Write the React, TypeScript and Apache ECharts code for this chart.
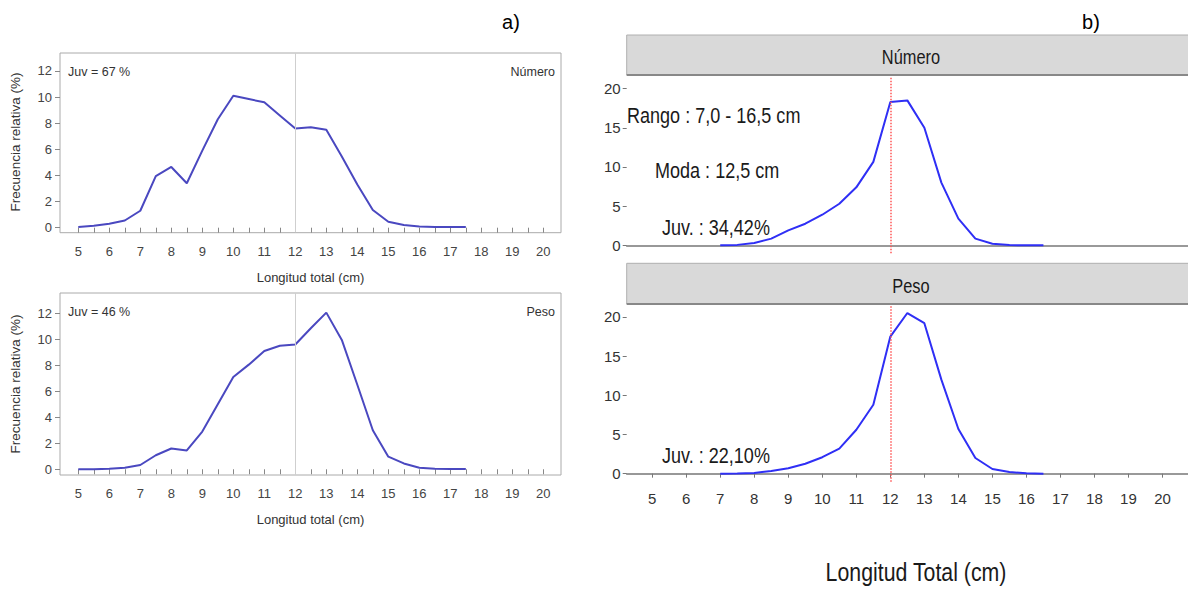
import React, { useEffect, useRef } from "react";
import * as echarts from "echarts";

// ---- data ----
const xLeft = [5, 5.5, 6, 6.5, 7, 7.5, 8, 8.5, 9, 9.5, 10, 10.5, 11, 11.5, 12, 12.5, 13, 13.5, 14, 14.5, 15, 15.5, 16, 16.5, 17, 17.5];
const numeroLeft = [0.05, 0.15, 0.3, 0.55, 1.3, 3.95, 4.65, 3.4, 5.9, 8.3, 10.1, 9.85, 9.6, 8.6, 7.6, 7.7, 7.5, 5.45, 3.3, 1.35, 0.45, 0.2, 0.1, 0.05, 0.05, 0.05];
const pesoLeft = [0, 0, 0.05, 0.12, 0.33, 1.08, 1.6, 1.45, 2.9, 5.0, 7.1, 8.05, 9.1, 9.5, 9.6, 10.85, 12.05, 9.95, 6.5, 3.0, 0.97, 0.45, 0.12, 0.05, 0.03, 0.03];

const xRight = [7, 7.5, 8, 8.5, 9, 9.5, 10, 10.5, 11, 11.5, 12, 12.5, 13, 13.5, 14, 14.5, 15, 15.5, 16, 16.5];
const numeroRight = [0, 0.05, 0.3, 0.85, 1.9, 2.75, 3.9, 5.3, 7.4, 10.65, 18.3, 18.5, 15.0, 8.0, 3.4, 0.85, 0.2, 0.02, 0, 0];
const pesoRight = [0, 0.02, 0.1, 0.35, 0.7, 1.27, 2.1, 3.2, 5.6, 8.8, 17.5, 20.5, 19.2, 12.0, 5.7, 2.0, 0.6, 0.2, 0.05, 0];

const xTickLabels = [5, 6, 7, 8, 9, 10, 11, 12, 13, 14, 15, 16, 17, 18, 19, 20];
const xTicksHalf = [5, 5.5, 6, 6.5, 7, 7.5, 8, 8.5, 9, 9.5, 10, 10.5, 11, 11.5, 12, 12.5, 13, 13.5, 14, 14.5, 15, 15.5, 16, 16.5, 17, 17.5, 18, 18.5, 19, 19.5, 20];
const yTicksLeft = [0, 2, 4, 6, 8, 10, 12];
const yTicksRight = [0, 5, 10, 15, 20];
const modeLine = 12;

const textsLeft = ["Juv = 67 %", "Juv = 46 %"];
const panelNames = ["Número", "Peso"];
const annotTop = ["Rango : 7,0 - 16,5 cm", "Moda : 12,5 cm", "Juv. : 34,42%"];
const annotBottom = "Juv. : 22,10%";

const SANS = "'Liberation Sans', Arial, sans-serif";
const NARROW_SCALE = 0.82;

const pairs = (xs: number[], ys: number[]) => xs.map((x, i) => [x, ys[i]]);

export default function App() {
  const ref = useRef<HTMLDivElement>(null);
  useEffect(() => {
    if (!ref.current) return;
    const chart = echarts.init(ref.current, null, { renderer: "svg" });

    const leftX = (gi: number) => ({
      type: "value",
      gridIndex: gi,
      min: 4.41,
      max: 20.57,
      splitLine: { show: false },
      axisLine: { show: false },
      axisTick: { show: true, customValues: xTicksHalf, length: 5, lineStyle: { color: "#888" } },
      axisLabel: { customValues: xTickLabels, margin: 12, fontSize: 13, color: "#444", fontFamily: SANS },
      name: "Longitud total (cm)",
      nameLocation: "middle",
      nameGap: 38,
      nameTextStyle: { fontSize: 13, color: "#333", fontFamily: SANS },
    });
    const leftY = (gi: number, min: number, max: number) => ({
      type: "value",
      gridIndex: gi,
      min,
      max,
      splitLine: { show: false },
      axisLine: { show: false },
      axisTick: { show: true, customValues: yTicksLeft, length: 5, lineStyle: { color: "#888" } },
      axisLabel: { customValues: yTicksLeft, margin: 8, fontSize: 13, color: "#444", fontFamily: SANS },
    });
    const rightX = (gi: number, labels: boolean) => ({
      type: "value",
      gridIndex: gi,
      min: 4.25,
      max: 20.75,
      splitLine: { show: false },
      axisLine: { show: true, lineStyle: { color: "#777", width: 1.5 } },
      axisTick: { show: labels, customValues: xTickLabels, length: 4, lineStyle: { color: "#777" } },
      axisLabel: { show: labels, customValues: xTickLabels, margin: 9, fontSize: 15, color: "#333", fontFamily: SANS },
    });
    const rightY = (gi: number) => ({
      type: "value",
      gridIndex: gi,
      min: -1.025,
      max: 21.525,
      splitLine: { show: false },
      axisLine: { show: false },
      axisTick: { show: true, customValues: yTicksRight, length: 4, lineStyle: { color: "#777" } },
      axisLabel: { customValues: yTicksRight, margin: 6, fontSize: 15, color: "#333", fontFamily: SANS },
    });

    const leftLine = (xi: number, data: number[]) => ({
      type: "line",
      xAxisIndex: xi,
      yAxisIndex: xi,
      data: pairs(xLeft, data),
      symbol: "none",
      lineStyle: { color: "#4a48c0", width: 2 },
      markLine: {
        silent: true,
        symbol: "none",
        label: { show: false },
        lineStyle: { color: "#cfcfcf", width: 1, type: "solid" },
        data: [{ xAxis: modeLine }],
      },
    });
    const rightLine = (xi: number, data: number[]) => ({
      type: "line",
      xAxisIndex: xi,
      yAxisIndex: xi,
      data: pairs(xRight, data),
      symbol: "none",
      lineStyle: { color: "#2f2ff5", width: 2 },
      markLine: {
        silent: true,
        symbol: "none",
        label: { show: false },
        lineStyle: { color: "#ff5555", width: 1.5, type: "dotted" },
        data: [{ xAxis: modeLine }],
      },
    });

    const stripRect = (y: number, h: number) => ({
      type: "rect",
      shape: { x: 626.7, y, width: 580, height: h },
      style: { fill: "#d9d9d9", stroke: "#b0b0b0", lineWidth: 1 },
    });
    const stripLine = (y: number) => ({
      type: "line",
      shape: { x1: 626.7, y1: y, x2: 1200, y2: y },
      style: { stroke: "#888", lineWidth: 2 },
    });
    const narrowText = (text: string, x: number, y: number, size: number, align: string) => ({
      type: "text",
      x,
      y,
      scaleX: NARROW_SCALE,
      style: { text, font: `${size}px ${SANS}`, fill: "#1a1a1a", align, verticalAlign: "middle" },
    });

    chart.setOption({
      animation: false,
      grid: [
        { left: 60, top: 53, width: 501, height: 179.7, show: true, borderColor: "#aaa", borderWidth: 1 },
        { left: 60, top: 293, width: 501, height: 182, show: true, borderColor: "#aaa", borderWidth: 1 },
        { left: 626.7, top: 76.7, width: 569.25, height: 176.6 },
        { left: 626.7, top: 305, width: 569.25, height: 176.7 },
      ],
      xAxis: [leftX(0), leftX(1), rightX(2, false), rightX(3, true)],
      yAxis: [leftY(0, -0.383, 13.378), leftY(1, -0.44, 13.56), rightY(2), rightY(3)],
      series: [
        leftLine(0, numeroLeft),
        leftLine(1, pesoLeft),
        rightLine(2, numeroRight),
        rightLine(3, pesoRight),
      ],
      graphic: [
        { type: "text", x: 511, y: 22, style: { text: "a)", font: `20px ${SANS}`, fill: "#000", align: "center", verticalAlign: "middle" } },
        { type: "text", x: 1091, y: 22, style: { text: "b)", font: `20px ${SANS}`, fill: "#000", align: "center", verticalAlign: "middle" } },
        { type: "text", x: 15, y: 142, rotation: Math.PI / 2, style: { text: "Frecuencia relativa (%)", font: `13.5px ${SANS}`, fill: "#333", align: "center", verticalAlign: "middle" } },
        { type: "text", x: 15, y: 384, rotation: Math.PI / 2, style: { text: "Frecuencia relativa (%)", font: `13.5px ${SANS}`, fill: "#333", align: "center", verticalAlign: "middle" } },
        { type: "text", x: 68, y: 72, style: { text: textsLeft[0], font: `12.5px ${SANS}`, fill: "#333", align: "left", verticalAlign: "middle" } },
        { type: "text", x: 68, y: 312, style: { text: textsLeft[1], font: `12.5px ${SANS}`, fill: "#333", align: "left", verticalAlign: "middle" } },
        { type: "text", x: 555, y: 72, style: { text: panelNames[0], font: `12.5px ${SANS}`, fill: "#333", align: "right", verticalAlign: "middle" } },
        { type: "text", x: 555, y: 312, style: { text: panelNames[1], font: `12.5px ${SANS}`, fill: "#333", align: "right", verticalAlign: "middle" } },
        stripRect(35, 40),
        stripLine(75),
        stripRect(263.3, 40.7),
        stripLine(304),
        narrowText(panelNames[0], 911, 57, 20, "center"),
        narrowText(panelNames[1], 911, 286, 20, "center"),
        narrowText(annotTop[0], 627, 115, 22, "left"),
        narrowText(annotTop[1], 655, 170, 22, "left"),
        narrowText(annotTop[2], 662, 227, 22, "left"),
        narrowText(annotBottom, 662, 455, 22, "left"),
        narrowText("Longitud Total (cm)", 916, 572, 26, "center"),
      ],
    });
    return () => chart.dispose();
  }, []);
  return <div ref={ref} style={{ position: "absolute", left: 0, top: 0, width: 1188, height: 590, background: "#fff" }} />;
}
